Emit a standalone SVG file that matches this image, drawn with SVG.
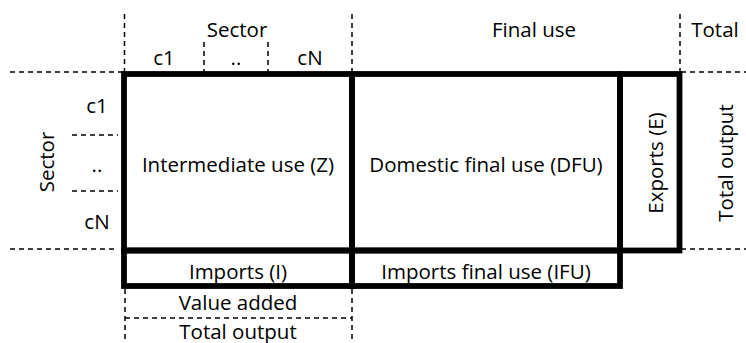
<svg xmlns="http://www.w3.org/2000/svg" width="746" height="343" viewBox="0 0 746 343">
<style>
.t{font-family:"Open Sans","Liberation Sans",sans-serif;font-size:20.5px;fill:#000;text-anchor:middle}
.box{fill:none;stroke:#000;stroke-width:5.8;stroke-linejoin:miter}
.d{stroke:#000;stroke-width:1.5;stroke-dasharray:5 4;fill:none}
</style>
<rect width="746" height="343" fill="#fff"/>
<g id="connectors">
<line class="d" x1="124.5" y1="14" x2="124.5" y2="72"/>
<line class="d" x1="352" y1="14" x2="352" y2="72"/>
<line class="d" x1="204" y1="42" x2="204" y2="72"/>
<line class="d" x1="268" y1="42" x2="268" y2="72"/>
<line class="d" x1="680" y1="14" x2="680" y2="72"/>
<line class="d" x1="10" y1="72" x2="124" y2="72"/>
<line class="d" x1="681" y1="72" x2="746" y2="72"/>
<line class="d" x1="72" y1="135" x2="118" y2="135"/>
<line class="d" x1="72" y1="191" x2="118" y2="191"/>
<line class="d" x1="10" y1="249" x2="118" y2="249"/>
<line class="d" x1="681" y1="249" x2="746" y2="249"/>
<line class="d" x1="125" y1="289" x2="125" y2="343"/>
<line class="d" x1="352" y1="289" x2="352" y2="343"/>
<line class="d" x1="125" y1="318" x2="352" y2="318"/>
</g>
<g id="header-sector">
<text class="t" x="237" y="37">Sector</text>
<text class="t" x="164" y="65">c1</text>
<text class="t" x="236" y="65">..</text>
<text class="t" x="310" y="65">cN</text>
</g>
<g id="header-final-use"><text class="t" x="534" y="37">Final use</text></g>
<g id="header-total"><text class="t" x="715" y="37">Total</text></g>
<g id="row-sector">
<text class="t" transform="translate(54,162) rotate(-90)">Sector</text>
<text class="t" x="97" y="113">c1</text>
<text class="t" x="97" y="172">..</text>
<text class="t" x="97" y="229">cN</text>
</g>
<g id="Z"><rect class="box" x="124" y="74" width="228" height="176.5"/><text class="t" x="238" y="171.5">Intermediate use (Z)</text></g>
<g id="DFU"><rect class="box" x="352" y="74" width="268" height="176.5"/><text class="t" x="486" y="171.5">Domestic final use (DFU)</text></g>
<g id="E"><rect class="box" x="620" y="74" width="59.5" height="176.5"/><text class="t" transform="translate(663,163) rotate(-90)">Exports (E)</text></g>
<g id="total-output-col"><text class="t" transform="translate(733,163) rotate(-90)">Total output</text></g>
<g id="I"><rect class="box" x="124" y="250.5" width="228" height="35.5"/><text class="t" x="238" y="279">Imports (I)</text></g>
<g id="IFU"><rect class="box" x="352" y="250.5" width="268" height="35.5"/><text class="t" x="486" y="279">Imports final use (IFU)</text></g>
<g id="value-added"><text class="t" x="238" y="310">Value added</text></g>
<g id="total-output-row"><text class="t" x="238" y="338.5">Total output</text></g>
</svg>
